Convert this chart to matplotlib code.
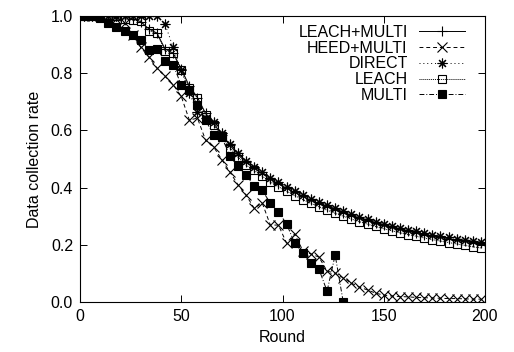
import matplotlib
matplotlib.use("Agg")
import matplotlib.pyplot as plt

plt.rcParams['font.family'] = ['Liberation Sans', 'DejaVu Sans']

# rounds sampled every 4 rounds
rounds = list(range(2, 199, 4))
rounds_multi = list(range(2, 131, 4))

leach_multi = [1.0, 1.0, 1.0, 1.0, 1.0, 1.0, 0.99, 0.98, 0.955, 0.94,
               0.885, 0.87, 0.815, 0.755, 0.715, 0.66, 0.625, 0.585, 0.548, 0.515,
               0.488, 0.468, 0.449, 0.43, 0.413, 0.398, 0.383, 0.369, 0.356, 0.344,
               0.333, 0.322, 0.312, 0.302, 0.293, 0.284, 0.276, 0.268, 0.261, 0.254,
               0.248, 0.242, 0.236, 0.231, 0.226, 0.221, 0.217, 0.213, 0.209, 0.205]

heed_multi = [1.0, 1.0, 1.0, 1.0, 0.99, 0.975, 0.935, 0.89, 0.857, 0.818,
              0.789, 0.76, 0.719, 0.636, 0.643, 0.566, 0.542, 0.498, 0.455, 0.41,
              0.374, 0.328, 0.346, 0.269, 0.269, 0.206, 0.238, 0.18, 0.168, 0.157,
              0.108, 0.101, 0.084, 0.066, 0.052, 0.042, 0.031, 0.024, 0.021, 0.019,
              0.018, 0.016, 0.015, 0.014, 0.013, 0.012, 0.012, 0.011, 0.01, 0.01]

direct = [1.0, 1.0, 1.0, 1.0, 1.0, 1.0, 1.0, 1.0, 1.0, 1.0,
          0.972, 0.89, 0.81, 0.73, 0.665, 0.645, 0.628, 0.59, 0.553, 0.52,
          0.493, 0.473, 0.454, 0.435, 0.418, 0.403, 0.388, 0.374, 0.361, 0.349,
          0.338, 0.327, 0.317, 0.307, 0.298, 0.289, 0.281, 0.273, 0.266, 0.259,
          0.253, 0.247, 0.241, 0.236, 0.231, 0.226, 0.222, 0.218, 0.214, 0.21]

leach = [1.0, 1.0, 1.0, 1.0, 1.0, 0.99, 0.986, 0.982, 0.948, 0.941,
         0.878, 0.871, 0.811, 0.748, 0.713, 0.654, 0.62, 0.58, 0.54, 0.507,
         0.479, 0.46, 0.44, 0.42, 0.403, 0.388, 0.372, 0.358, 0.345, 0.333,
         0.321, 0.31, 0.3, 0.29, 0.281, 0.272, 0.264, 0.256, 0.249, 0.242,
         0.236, 0.23, 0.224, 0.218, 0.213, 0.208, 0.203, 0.198, 0.193, 0.189]

multi = [1.0, 1.0, 0.993, 0.976, 0.962, 0.948, 0.934, 0.916, 0.881, 0.885,
         0.843, 0.829, 0.759, 0.741, 0.689, 0.636, 0.584, 0.577, 0.51, 0.474,
         0.444, 0.405, 0.39, 0.346, 0.315, 0.273, 0.206, 0.171, 0.136, 0.115,
         0.038, 0.164, 0.0]

fig = plt.figure(figsize=(5.14, 3.52), dpi=100)
ax = fig.add_axes([80 / 514, 50 / 352, 405 / 514, 286 / 352])

lw = 0.7
ax.plot(rounds, leach_multi, color='black', lw=lw, ls='-', marker='+',
        ms=7, mew=0.8, label='LEACH+MULTI')
ax.plot(rounds, heed_multi, color='black', lw=lw, ls=(0, (4, 3)), marker='x',
        ms=7, mew=0.8, label='HEED+MULTI')
ax.plot(rounds, direct, color='black', lw=lw, ls=(0, (1, 3)), marker=(8, 2, 0),
        ms=7, mew=0.8, label='DIRECT')
ax.plot(rounds, leach, color='black', lw=lw, ls=(0, (1, 1)), marker='s',
        ms=6, mew=0.8, mfc='none', label='LEACH')
ax.plot(rounds_multi, multi, color='black', lw=lw, ls=(0, (5, 2, 1, 2)), marker='s',
        ms=6, mew=0.8, mfc='black', label='MULTI')

ax.set_xlim(0, 200)
ax.set_ylim(0, 1.0)
ax.set_xticks([0, 50, 100, 150, 200])
ax.set_yticks([0.0, 0.2, 0.4, 0.6, 0.8, 1.0])
ax.set_yticklabels(['0.0', '0.2', '0.4', '0.6', '0.8', '1.0'])
ax.tick_params(direction='in', top=True, right=True, length=5, width=0.7,
               labelsize=11.5, pad=5)
for s in ax.spines.values():
    s.set_linewidth(0.8)

ax.set_xlabel('Round', fontsize=11.5, labelpad=4)
ax.set_ylabel('Data collection rate', fontsize=11.5, labelpad=6)

ax.legend(loc='upper right', bbox_to_anchor=(0.951, 0.969), frameon=False,
          markerfirst=False, fontsize=11.5, handlelength=2.9, handletextpad=0.7,
          labelspacing=0.05, borderpad=0, borderaxespad=0)

fig.savefig('out.png', dpi=100)
